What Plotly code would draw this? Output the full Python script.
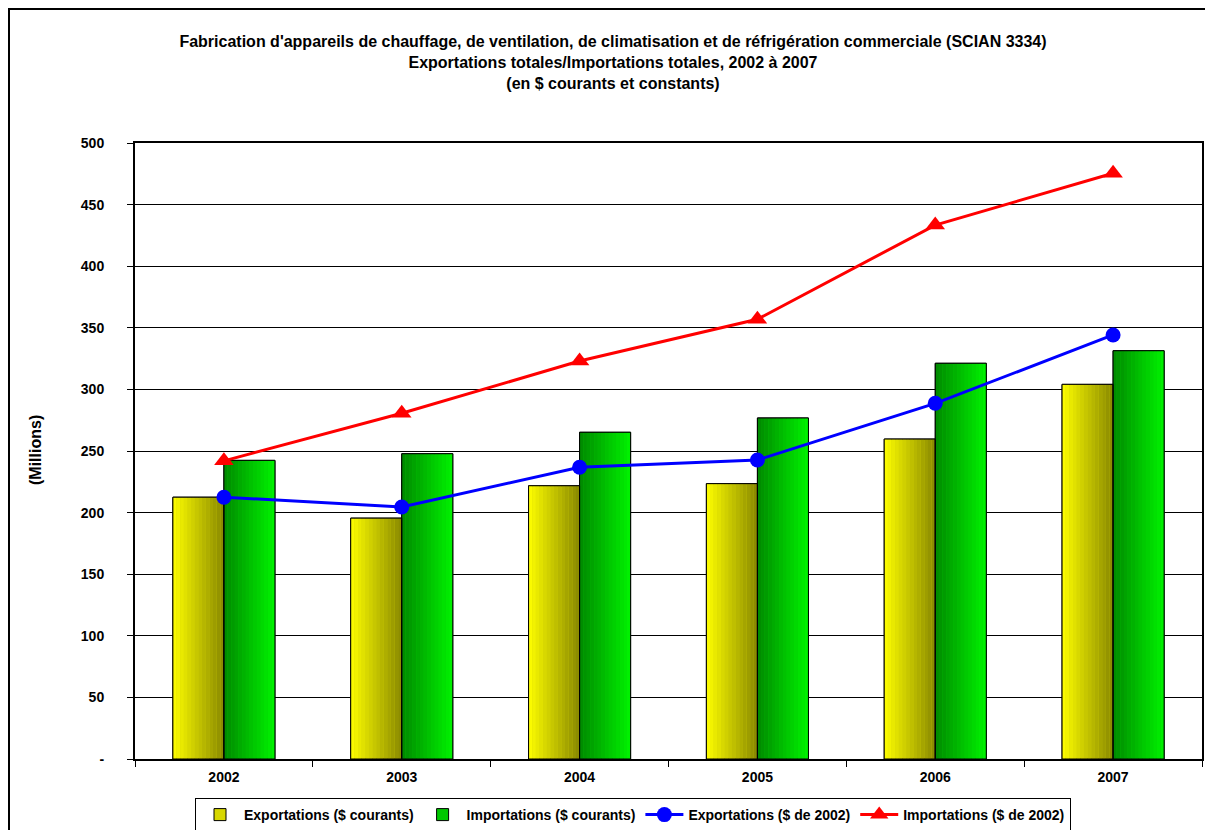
import plotly.graph_objects as go

# ---- data ----
years = ["2002", "2003", "2004", "2005", "2006", "2007"]
exp_courants = [212.5, 195.5, 221.8, 223.5, 259.7, 304.1]
imp_courants = [242.4, 247.8, 265.2, 276.8, 321.2, 331.4]
exp_2002 = [212.5, 204.5, 236.8, 242.7, 288.7, 344.2]
imp_2002 = [242.0, 280.6, 323.0, 356.9, 433.4, 475.4]
y_ticks = [0, 50, 100, 150, 200, 250, 300, 350, 400, 450, 500]
y_ticktext = ["-", "50", "100", "150", "200", "250", "300", "350", "400", "450", "500"]

title_lines = [
    "Fabrication d'appareils de chauffage, de ventilation, de climatisation et de réfrigération commerciale (SCIAN 3334)",
    "Exportations totales/Importations totales, 2002 à 2007",
    "(en $ courants et constants)",
]

FONT = "Liberation Sans, Arial, sans-serif"

# page body has an 8px margin on every side; size the figure to fit exactly
OFF = 8
W, H = 1213 - 2 * OFF, 838 - 2 * OFF
PL, PR, PT, PB = 135, 1202, 143, 759          # plot area in page pixels
L, T = PL - OFF, PT - OFF
R, B = W - (PR - OFF), H - (PB - OFF)
PW, PH = PR - PL, PB - PT

def px_x(p):
    return (p - PL) / PW

def px_y(p):
    return (PB - p) / PH

def cx(p):
    return (p - OFF) / W

def cy(p):
    return 1 - (p - OFF) / H

BAR_W = 0.287
N_SLICES = 14

def lerp(c0, c1, t):
    return "rgb(%d,%d,%d)" % tuple(round(a + (b - a) * t) for a, b in zip(c0, c1))

fig = go.Figure()

def gradient_bar(values, name, offset, c_left, c_right, legend_color):
    fig.add_trace(go.Bar(
        x=years, y=values, name=name, offset=offset, width=BAR_W,
        marker=dict(color=legend_color, line=dict(color="black", width=1)),
        showlegend=True, hoverinfo="skip",
    ))
    sw = BAR_W / N_SLICES
    for i in range(N_SLICES):
        t = i / (N_SLICES - 1)
        fig.add_trace(go.Bar(
            x=years, y=values, offset=offset + i * sw, width=sw * 1.02,
            marker=dict(color=lerp(c_left, c_right, t), line=dict(width=0)),
            showlegend=False, hoverinfo="skip",
        ))

gradient_bar(exp_courants, "Exportations ($ courants)", -BAR_W,
             (250, 250, 0), (140, 140, 0), "rgb(215,215,0)")
gradient_bar(imp_courants, "Importations ($ courants)", 0.0,
             (0, 140, 0), (0, 240, 0), "rgb(0,200,0)")

for vals, off in ((exp_courants, -BAR_W), (imp_courants, 0.0)):
    fig.add_trace(go.Bar(
        x=years, y=vals, offset=off, width=BAR_W,
        marker=dict(color="rgba(0,0,0,0)", line=dict(color="black", width=1)),
        showlegend=False, hoverinfo="skip",
    ))

fig.add_trace(go.Scatter(
    x=years, y=exp_2002, name="Exportations ($ de 2002)", mode="lines+markers",
    line=dict(color="#0000FF", width=3),
    marker=dict(symbol="circle", size=15, color="#0000FF"),
))
fig.add_trace(go.Scatter(
    x=years, y=imp_2002, name="Importations ($ de 2002)", mode="lines+markers",
    line=dict(color="#FF0000", width=3),
    marker=dict(symbol="triangle-up", size=17, color="#FF0000"),
))

fig.update_layout(
    width=W, height=H,
    margin=dict(l=L, r=R, t=T, b=B, pad=0, autoexpand=False),
    paper_bgcolor="white", plot_bgcolor="white",
    barmode="overlay",
    font=dict(family=FONT, size=14, color="black", weight="bold"),
    title=dict(
        text="<br>".join(title_lines),
        x=cx(613), xanchor="center", xref="container",
        y=cy(47), yanchor="top", yref="container",
        font=dict(family=FONT, size=16, color="black", weight="bold"),
    ),
    legend=dict(
        orientation="h", xref="container", yref="container",
        x=cx(633), xanchor="center", y=cy(798), yanchor="top",
        bordercolor="black", borderwidth=1, bgcolor="white",
        font=dict(family=FONT, size=14, color="black", weight="bold"),
        itemwidth=38, tracegroupgap=0,
    ),
    showlegend=True,
)

fig.update_xaxes(
    type="category", showline=True, linecolor="black", linewidth=2, mirror=True,
    ticks="outside", tickson="boundaries", ticklen=6, tickcolor="black", tickwidth=1,
    showgrid=False, ticklabelstandoff=4,
    tickfont=dict(family=FONT, size=14, color="black", weight="bold"),
)
fig.update_yaxes(
    range=[0, 500], tickvals=y_ticks, ticktext=y_ticktext,
    showline=True, linecolor="black", linewidth=2, mirror=True,
    ticks="outside", ticklen=6, tickcolor="black", tickwidth=1,
    showgrid=True, gridcolor="black", gridwidth=1,
    ticklabelstandoff=20,
    tickfont=dict(family=FONT, size=14, color="black", weight="bold"),
    zeroline=False,
)

fig.add_annotation(
    text="(Millions)", textangle=-90, xref="paper", yref="paper",
    x=px_x(35), y=px_y(450), xanchor="center", yanchor="middle", showarrow=False,
    font=dict(family=FONT, size=16, color="black", weight="bold"),
)

fig.add_shape(
    type="rect", xref="paper", yref="paper",
    x0=px_x(9), x1=px_x(1225), y0=px_y(850), y1=px_y(9),
    line=dict(color="black", width=2), fillcolor="rgba(0,0,0,0)", layer="above",
)

fig.write_html("out.html")
